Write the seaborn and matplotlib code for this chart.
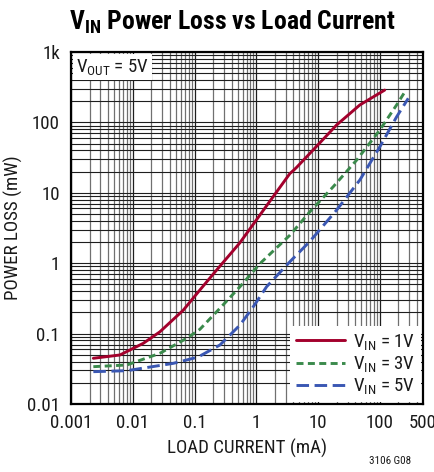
import numpy as np
import pandas as pd
import matplotlib
matplotlib.use("Agg")
import matplotlib.pyplot as plt
from matplotlib import font_manager
from matplotlib.ticker import FixedLocator, LogLocator, NullFormatter
import seaborn as sns

# ---- data ----
x_1v = [0.0023, 0.0062, 0.0148, 0.0275, 0.066, 0.122, 0.228, 0.54, 1.0, 1.66, 3.5, 4.0, 4.5, 8.3, 20, 47.5, 120]
y_1v = [0.0446, 0.0497, 0.0728, 0.106, 0.216, 0.416, 0.80, 1.94, 4.1, 7.6, 18.8, 20.8, 23.0, 40.5, 92, 177, 288]

x_3v = [0.0023, 0.008, 0.0275, 0.0747, 0.122, 0.258, 0.545, 1.15, 3.5, 7.4, 17.6, 42.2, 100, 187, 255]
y_3v = [0.0339, 0.0358, 0.0525, 0.0858, 0.115, 0.229, 0.464, 0.99, 2.5, 5.4, 12.2, 29.2, 78, 177, 273]

x_5v = [0.0023, 0.008, 0.0453, 0.0955, 0.122, 0.258, 0.545, 0.894, 1.47, 3.5, 7.4, 20, 47.5, 100, 187, 289]
y_5v = [0.0288, 0.0297, 0.0378, 0.0446, 0.048, 0.0689, 0.1325, 0.241, 0.464, 1.05, 2.05, 5.7, 15.2, 45, 120, 220]

series_labels = [r"$\mathregular{V_{IN}}$ = 1V", r"$\mathregular{V_{IN}}$ = 3V", r"$\mathregular{V_{IN}}$ = 5V"]
x_ticks = [0.001, 0.01, 0.1, 1, 10, 100, 500]
x_ticklabels = ["0.001", "0.01", "0.1", "1", "10", "100", "500"]
y_ticks = [0.01, 0.1, 1, 10, 100, 1000]
y_ticklabels = ["0.01", "0.1", "1", "10", "100", "1k"]

df = pd.concat([
    pd.DataFrame({"x": x_1v, "y": y_1v, "s": series_labels[0]}),
    pd.DataFrame({"x": x_3v, "y": y_3v, "s": series_labels[1]}),
    pd.DataFrame({"x": x_5v, "y": y_5v, "s": series_labels[2]}),
])

# ---- style ----
sns.set_theme(style="white")
names = {f.name for f in font_manager.fontManager.ttflist}
fam = "DejaVu Sans"
for cand in ["Liberation Sans Narrow", "Roboto Condensed", "Archivo Narrow", "Fira Sans Condensed",
             "IBM Plex Sans Condensed", "Liberation Sans"]:
    if cand in names:
        fam = cand
        break
plt.rcParams["font.family"] = [fam, "DejaVu Sans"]
plt.rcParams["mathtext.fontset"] = "custom"
plt.rcParams["mathtext.rm"] = fam
plt.rcParams["mathtext.it"] = fam
plt.rcParams["mathtext.bf"] = fam + ":bold"

TXT = "#1a1a1a"
FS = 13.6
colors = {series_labels[0]: "#a3002c", series_labels[1]: "#3b8a4c", series_labels[2]: "#3a57b3"}
dashes = {series_labels[0]: "", series_labels[1]: (2.4, 1.5), series_labels[2]: (4.3, 1.9)}

fig = plt.figure(figsize=(4.34, 4.72), dpi=100)
ax = fig.add_axes([71/434, 1 - 404/472, 352/434, 352/472])

sns.lineplot(data=df, x="x", y="y", hue="s", style="s", palette=colors, dashes=dashes,
             estimator=None, sort=False, linewidth=2.1, ax=ax, legend=False, zorder=3)

ax.set_xscale("log")
ax.set_yscale("log")
ax.set_xlim(0.001, 500)
ax.set_ylim(0.01, 1000)

ax.xaxis.set_major_locator(FixedLocator(x_ticks))
ax.set_xticklabels(x_ticklabels)
ax.yaxis.set_major_locator(FixedLocator(y_ticks))
ax.set_yticklabels(y_ticklabels)
ax.xaxis.set_minor_locator(LogLocator(base=10, subs=np.arange(2, 10), numticks=20))
ax.yaxis.set_minor_locator(LogLocator(base=10, subs=np.arange(2, 10), numticks=20))
ax.xaxis.set_minor_formatter(NullFormatter())
ax.yaxis.set_minor_formatter(NullFormatter())

ax.tick_params(axis="x", which="major", direction="in", length=0, pad=7, labelsize=FS, colors=TXT)
ax.tick_params(axis="y", which="major", direction="in", length=0, pad=8, labelsize=FS, colors=TXT)
ax.tick_params(axis="both", which="minor", direction="in", length=0)

ax.grid(True, which="major", axis="x", color="#1e1e1e", linewidth=0.9)
ax.grid(True, which="minor", axis="x", color="#707070", linewidth=0.9)
ax.grid(True, which="both", axis="y", color="#1e1e1e", linewidth=0.8)

for sp in ax.spines.values():
    sp.set_color("black")
    sp.set_linewidth(1.6)
    sp.set_visible(True)

ax.set_xlabel("LOAD CURRENT (mA)", fontsize=FS, color=TXT, labelpad=5)
ax.set_ylabel("POWER LOSS (mW)", fontsize=FS, color=TXT, labelpad=3)

fig.text(0.535, 0.953, r"$\mathregular{V_{IN}}$ Power Loss vs Load Current", ha="center", va="center",
         fontsize=18.5, fontweight="bold", color="black")

ax.text(0.014, 0.986, r"$\mathregular{V_{OUT}}$ = 5V", transform=ax.transAxes, ha="left", va="top",
        fontsize=FS, color=TXT, zorder=6,
        bbox=dict(facecolor="white", edgecolor="none", pad=2.5))

handles = ax.get_lines()[:3]
leg = ax.legend(handles, series_labels, loc="lower right", fontsize=FS, frameon=True,
                framealpha=1, facecolor="white", edgecolor="none", fancybox=False,
                handlelength=2.6, handletextpad=0.45, borderpad=0.3, labelspacing=0.12,
                borderaxespad=0.1)
for t in leg.get_texts():
    t.set_color(TXT)

fig.text(0.947, 0.012, "3106 G08", ha="right", va="bottom", fontsize=8, color=TXT)

fig.savefig("out.png", dpi=100)
